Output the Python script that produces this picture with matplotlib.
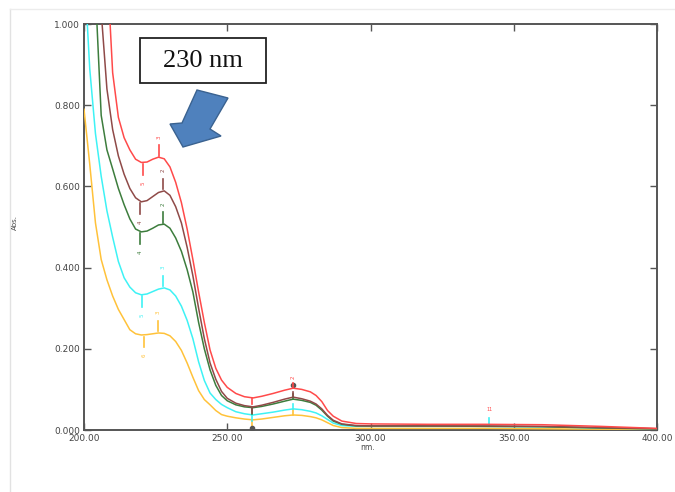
import numpy as np
import matplotlib
matplotlib.use("Agg")
import matplotlib.pyplot as plt
from matplotlib.patches import Rectangle, Polygon

# longitud de onda (nm) comun a todas las curvas
wl = [200, 202, 204, 206, 208, 210, 212, 214, 216, 218, 220, 222, 224, 226, 228,
      230, 232, 234, 236, 238, 240, 242, 244, 246, 248, 250, 253, 256, 259, 262,
      266, 270, 273, 276, 279, 281, 283, 285, 287, 290, 295, 300, 320, 340, 360,
      380, 400]

# absorbancias
abs_red = [2.5, 2.1, 1.75, 1.43, 1.15, 0.88, 0.77, 0.72, 0.69, 0.667, 0.659, 0.66,
           0.667, 0.672, 0.668, 0.648, 0.61, 0.56, 0.495, 0.42, 0.34, 0.265, 0.197,
           0.152, 0.123, 0.105, 0.09, 0.082, 0.079, 0.083, 0.09, 0.098, 0.103, 0.1,
           0.094, 0.085, 0.07, 0.048, 0.034, 0.022, 0.016, 0.015, 0.014, 0.014,
           0.013, 0.009, 0.004]
abs_brown = [2.0, 1.65, 1.3, 1.03, 0.84, 0.74, 0.675, 0.63, 0.595, 0.572, 0.562,
             0.565, 0.575, 0.585, 0.589, 0.578, 0.55, 0.51, 0.45, 0.38, 0.3, 0.225,
             0.165, 0.125, 0.095, 0.078, 0.066, 0.06, 0.057, 0.061, 0.068, 0.076,
             0.081, 0.077, 0.071, 0.064, 0.052, 0.036, 0.024, 0.015, 0.011, 0.01,
             0.01, 0.01, 0.009, 0.006, 0.003]
abs_green = [1.7, 1.35, 1.08, 0.775, 0.69, 0.643, 0.595, 0.555, 0.52, 0.495, 0.488,
             0.49, 0.497, 0.505, 0.507, 0.497, 0.473, 0.44, 0.395, 0.34, 0.265, 0.2,
             0.148, 0.11, 0.085, 0.072, 0.062, 0.057, 0.055, 0.058, 0.064, 0.071,
             0.076, 0.073, 0.068, 0.061, 0.049, 0.034, 0.022, 0.014, 0.01, 0.01,
             0.01, 0.009, 0.008, 0.005, 0.003]
abs_cyan = [1.15, 0.89, 0.73, 0.625, 0.54, 0.475, 0.415, 0.375, 0.352, 0.338, 0.333,
            0.335, 0.341, 0.347, 0.35, 0.345, 0.33, 0.305, 0.27, 0.225, 0.168, 0.122,
            0.091, 0.075, 0.063, 0.055, 0.045, 0.04, 0.037, 0.04, 0.044, 0.049,
            0.052, 0.05, 0.046, 0.042, 0.035, 0.026, 0.017, 0.011, 0.009, 0.009,
            0.009, 0.009, 0.008, 0.005, 0.003]
abs_orange = [0.79, 0.655, 0.51, 0.42, 0.37, 0.33, 0.297, 0.272, 0.247, 0.237, 0.234,
              0.235, 0.237, 0.239, 0.238, 0.232, 0.218, 0.196, 0.165, 0.13, 0.097,
              0.075, 0.062, 0.048, 0.038, 0.034, 0.03, 0.027, 0.025, 0.027, 0.031,
              0.035, 0.037, 0.036, 0.033, 0.03, 0.025, 0.018, 0.011, 0.006, 0.004,
              0.004, 0.004, 0.004, 0.003, 0.002, 0.002]

colores = ['#ffc23a', '#3ef2f5', '#3d7d3d', '#8f4a48', '#ff4a4a']
series = [abs_orange, abs_cyan, abs_green, abs_brown, abs_red]

# picos y valles marcados (nm, abs, etiqueta)
pico_nm = [226.0, 227.6, 227.5, 227.5, 226.2]
pico_abs = [0.239, 0.350, 0.507, 0.589, 0.672]
pico_lab = ['3', '3', '2', '2', '3']
valle_nm = [221.0, 220.2, 219.5, 219.5, 220.6]
valle_abs = [0.234, 0.333, 0.488, 0.562, 0.658]
valle_lab = ['6', '5', '4', '4', '5']
pico2_abs = [0.037, 0.052, 0.076, 0.081, 0.103]
valle2_abs = [0.025, 0.037, 0.055, 0.057, 0.079]

xticks = [200, 250, 300, 350, 400]
yticks = [0.0, 0.2, 0.4, 0.6, 0.8, 1.0]

fig = plt.figure(figsize=(6.75, 4.92), dpi=100)
ax = fig.add_axes([84/675, 62/492, 573/675, 406/492])

for y, c in zip(series, colores):
    ax.plot(wl, y, color=c, lw=1.1, zorder=3)

# marcas de picos / valles
for i, c in enumerate(colores):
    ax.plot([pico_nm[i]]*2, [pico_abs[i] + 0.004, pico_abs[i] + 0.03], color=c, lw=1.2, zorder=4)
    ax.text(pico_nm[i], pico_abs[i] + 0.05, pico_lab[i], color=c, fontsize=4,
            rotation=90, ha='center', va='center')
    ax.plot([valle_nm[i]]*2, [valle_abs[i] - 0.004, valle_abs[i] - 0.03], color=c, lw=1.2, zorder=4)
    ax.text(valle_nm[i], valle_abs[i] - 0.05, valle_lab[i], color=c, fontsize=4,
            rotation=90, ha='center', va='center')
    ax.plot([273, 273], [pico2_abs[i], pico2_abs[i] + 0.012], color=c, lw=1.2, zorder=4)
    ax.plot([258.6, 258.6], [valle2_abs[i], valle2_abs[i] - 0.015], color=c, lw=1.2, zorder=4)
ax.text(273, 0.13, '2', color='#ff4a4a', fontsize=4, rotation=90, ha='center', va='center')
ax.plot([258.6], [0.006], 'o', ms=3, color='#555555', zorder=5)
ax.plot([273], [0.112], 'o', ms=3, color='#555555', zorder=2)
ax.plot([341.4, 341.4], [0.012, 0.03], color='#3ef2f5', lw=1.2)
ax.text(341.4, 0.05, '11', color='#ff4a4a', fontsize=3.5, ha='center', va='center')

ax.set_xlim(200, 400)
ax.set_ylim(0, 1.0)
ax.set_xticks(xticks)
ax.set_xticklabels(['%.2f' % v for v in xticks])
ax.set_yticks(yticks)
ax.set_yticklabels(['%.3f' % v for v in yticks])
ax.tick_params(direction='in', length=5, width=1, color='#555555', top=True, right=True,
               labelsize=6.5, labelcolor='#444444', pad=3)
for s in ax.spines.values():
    s.set_color('#555555')
    s.set_linewidth(1.4)

# capa superior en pixeles de la imagen
ov = fig.add_axes([0, 0, 1, 1], zorder=5)
ov.set_xlim(0, 675)
ov.set_ylim(492, 0)
ov.axis('off')
ov.patch.set_alpha(0)

ov.plot([10, 10], [9, 492], color='#e2e2e2', lw=1)
ov.plot([10, 675], [9, 9], color='#ececec', lw=1)

ov.text(15, 223, 'Abs.', fontsize=5, rotation=90, color='#444444', ha='center', va='center')
ov.text(368, 448, 'nm.', fontsize=5.5, color='#444444', ha='center', va='center')

ov.add_patch(Rectangle((140, 38), 126, 45, fc='white', ec='#222222', lw=1.3))
ov.text(203, 61, '230 nm', fontsize=19, family='Liberation Serif', color='#111111',
        ha='center', va='center')
# flecha de bloque azul
flecha = [(197, 90), (228, 98), (210, 129), (221, 136), (183, 147), (170, 124), (182, 123)]
ov.add_patch(Polygon(flecha, closed=True, fc='#4F81BD', ec='#3A6290', lw=1))

fig.savefig('out.png', dpi=100)
